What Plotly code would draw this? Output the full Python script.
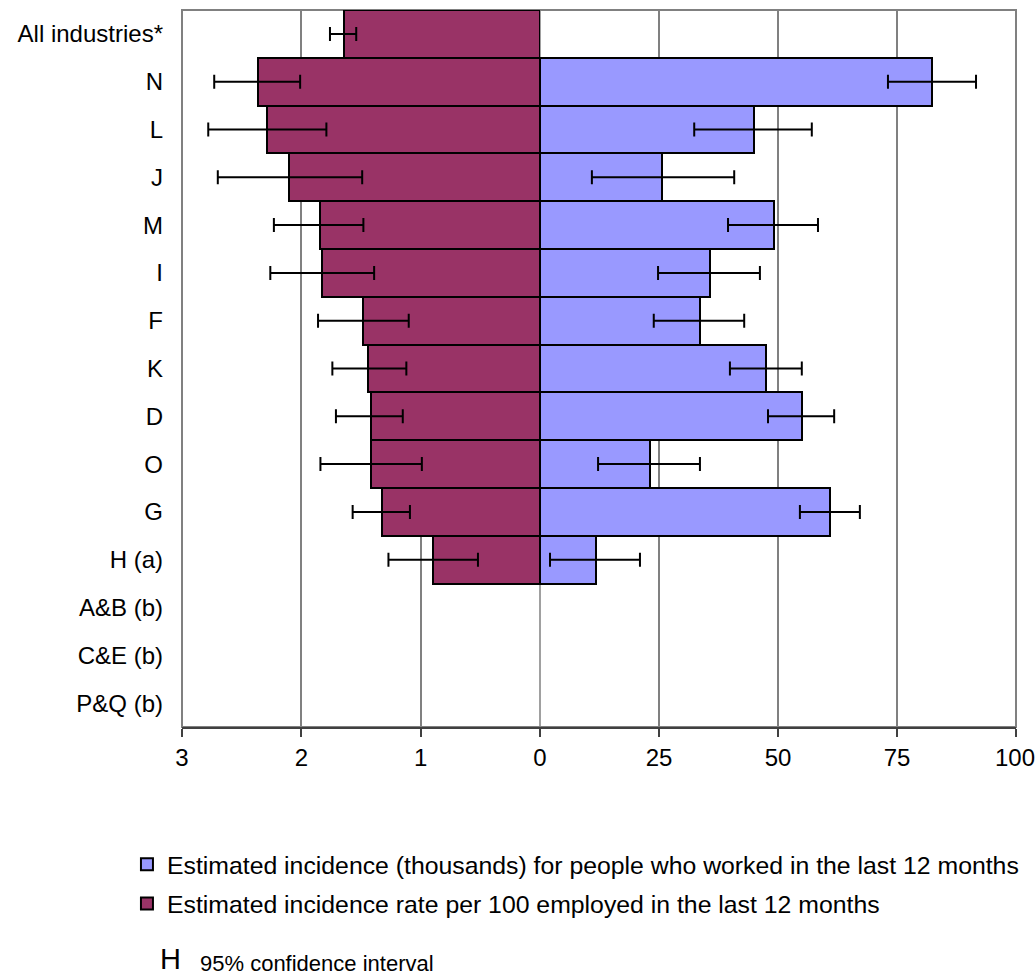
import plotly.graph_objects as go

# Industry categories, top to bottom
categories = ["All industries*", "N", "L", "J", "M", "I", "F", "K", "D", "O", "G",
              "H (a)", "A&B (b)", "C&E (b)", "P&Q (b)"]

# Estimated incidence rate per 100 employed, with 95% confidence limits
rate = [1.64, 2.36, 2.29, 2.10, 1.84, 1.83, 1.48, 1.44, 1.42, 1.42, 1.32, 0.90, None, None, None]
rate_low = [1.54, 2.01, 1.79, 1.49, 1.48, 1.39, 1.10, 1.12, 1.15, 0.99, 1.09, 0.52, None, None, None]
rate_high = [1.76, 2.73, 2.78, 2.70, 2.23, 2.26, 1.86, 1.74, 1.71, 1.84, 1.57, 1.27, None, None, None]

# Estimated incidence (thousands), with 95% confidence limits
thousands = [None, 82.4, 45.0, 25.7, 49.2, 35.7, 33.6, 47.5, 55.1, 23.1, 61.0, 11.8, None, None, None]
thou_low = [None, 73.1, 32.4, 10.9, 39.5, 24.8, 23.9, 39.9, 47.9, 12.2, 54.6, 2.1, None, None, None]
thou_high = [None, 91.6, 57.1, 40.8, 58.4, 46.2, 42.9, 55.0, 61.8, 33.6, 67.2, 21.0, None, None, None]

# Axis tick values
rate_ticks = [3, 2, 1, 0]
thou_ticks = [25, 50, 75, 100]


def plus(v, hi):
    return [None if a is None else b - a for a, b in zip(v, hi)]


def minus(v, lo):
    return [None if a is None else a - b for a, b in zip(v, lo)]


FONT = "Liberation Sans, Arial, sans-serif"
GRID = "#808080"
AXIS = "#404040"

fig = go.Figure()

fig.add_trace(go.Bar(
    x=thousands, y=categories, orientation="h", xaxis="x2", yaxis="y",
    name="Estimated incidence (thousands) for people who worked in the last 12 months",
    marker=dict(color="#9999FF", line=dict(color="black", width=2)),
    error_x=dict(type="data", array=plus(thousands, thou_high),
                 arrayminus=minus(thousands, thou_low),
                 color="black", thickness=2, width=7),
    width=1.0, legendgroup="a",
))

fig.add_trace(go.Bar(
    x=rate, y=categories, orientation="h", xaxis="x", yaxis="y",
    name="Estimated incidence rate per 100 employed in the last 12 months",
    marker=dict(color="#993366", line=dict(color="black", width=2)),
    error_x=dict(type="data", array=plus(rate, rate_high),
                 arrayminus=minus(rate, rate_low),
                 color="black", thickness=2, width=7),
    width=1.0, legendgroup="b",
))

split = 358 / 834

axis_common = dict(
    showgrid=True, gridcolor=GRID, gridwidth=1.5, zeroline=False,
    showline=True, linecolor=AXIS, linewidth=2,
    ticks="outside", ticklen=8, tickcolor=AXIS, tickwidth=1.5,
    tickfont=dict(size=24), automargin=False,
)

# the last tick label sits on the page edge, so it is drawn as an annotation
thou_labels = [str(v) for v in thou_ticks[:-1]] + [""]

fig.update_layout(
    width=1035, height=979,
    margin=dict(l=182, r=19, t=10, b=252, autoexpand=False),
    paper_bgcolor="white", plot_bgcolor="white",
    font=dict(family=FONT, size=24, color="black"),
    bargap=0,
    showlegend=True,
    legend=dict(
        x=-0.066, y=-0.16, xanchor="left", yanchor="top",
        font=dict(size=24.8), traceorder="grouped", tracegroupgap=4,
        itemwidth=30, bgcolor="rgba(0,0,0,0)",
    ),
    xaxis=dict(domain=[0, split], range=[3, 0], tickvals=rate_ticks, **axis_common),
    xaxis2=dict(domain=[split, 1], range=[0, 100], tickvals=thou_ticks,
                ticktext=thou_labels, anchor="y", **axis_common),
    yaxis=dict(
        type="category", categoryorder="array", categoryarray=categories,
        range=[14.5, -0.5], showgrid=False, zeroline=False, showline=False,
        ticks="", ticklabelstandoff=18, tickfont=dict(size=24), automargin=False,
    ),
    shapes=[
        # plot-area frame
        dict(type="rect", xref="paper", yref="paper", x0=0, x1=1, y0=0, y1=1,
             line=dict(color=GRID, width=2), layer="below"),
        # zero line shared by both halves
        dict(type="line", xref="paper", yref="paper", x0=split, x1=split, y0=0, y1=1,
             line=dict(color=GRID, width=1.5), layer="below"),
    ],
    annotations=[
        dict(text=str(thou_ticks[-1]), xref="x2", yref="paper", x=thou_ticks[-1],
             y=-0.042, xanchor="center", yanchor="middle", showarrow=False,
             xshift=-1, font=dict(family=FONT, size=24, color="black")),
        dict(text="H", xref="paper", yref="paper", x=-0.029, y=-0.324,
             xanchor="left", yanchor="middle", showarrow=False,
             font=dict(family=FONT, size=29, color="black")),
        dict(text="95% confidence interval", xref="paper", yref="paper",
             x=0.019, y=-0.330, xanchor="left", yanchor="middle", showarrow=False,
             font=dict(family=FONT, size=22, color="black")),
    ],
)

fig.write_html("out.html")
